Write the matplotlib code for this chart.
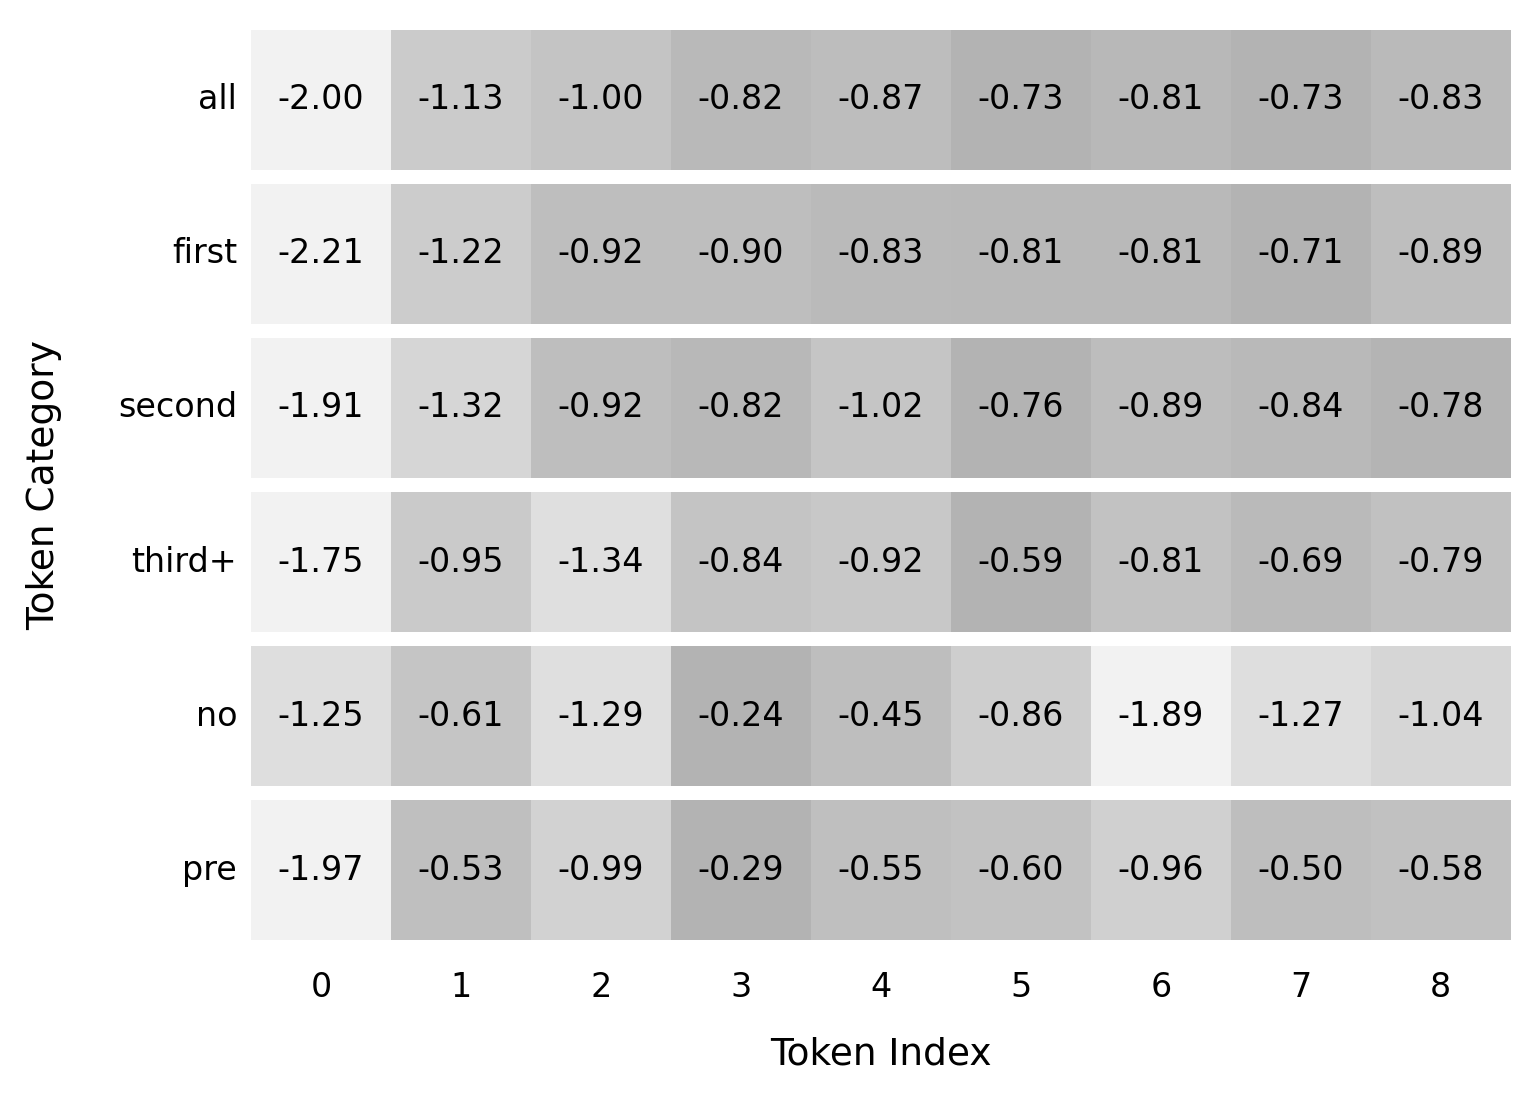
import numpy as np
import matplotlib.pyplot as plt
from matplotlib.patches import Rectangle

categories = ["all", "first", "second", "third+", "no", "pre"]
token_index = ["0", "1", "2", "3", "4", "5", "6", "7", "8"]

row_all = [-2.00, -1.13, -1.00, -0.82, -0.87, -0.73, -0.81, -0.73, -0.83]
row_first = [-2.21, -1.22, -0.92, -0.90, -0.83, -0.81, -0.81, -0.71, -0.89]
row_second = [-1.91, -1.32, -0.92, -0.82, -1.02, -0.76, -0.89, -0.84, -0.78]
row_third = [-1.75, -0.95, -1.34, -0.84, -0.92, -0.59, -0.81, -0.69, -0.79]
row_no = [-1.25, -0.61, -1.29, -0.24, -0.45, -0.86, -1.89, -1.27, -1.04]
row_pre = [-1.97, -0.53, -0.99, -0.29, -0.55, -0.60, -0.96, -0.50, -0.58]

rows = [row_all, row_first, row_second, row_third, row_no, row_pre]

cmap = plt.get_cmap("Greys")
pitch = 1.1  # row height 1 plus a white gap

fig = plt.figure(figsize=(7.7, 5.53), dpi=200)
ax = fig.add_axes([0.163, 0.150, 0.818, 0.823])

for i, vals in enumerate(rows):
    vals = np.array(vals)
    # each row gets its own colour scale
    frac = (vals - vals.min()) / (vals.max() - vals.min())
    y0 = i * pitch
    for j, v in enumerate(vals):
        ax.add_patch(Rectangle((j - 0.5, y0), 1, 1, facecolor=cmap(0.11 + 0.30 * frac[j]),
                               edgecolor="none"))
        ax.text(j, y0 + 0.5, f"{v:.2f}", ha="center", va="center", fontsize=12, color="black")

ax.set_xlim(-0.5, len(token_index) - 0.5)
ax.set_ylim((len(rows) - 1) * pitch + 1, 0)
ax.set_xticks(range(len(token_index)))
ax.set_xticklabels(token_index)
ax.set_yticks([i * pitch + 0.5 for i in range(len(rows))])
ax.set_yticklabels(categories, va="center")
ax.tick_params(length=0, labelsize=12)
ax.tick_params(axis="x", pad=11)
ax.tick_params(axis="y", pad=5)
for s in ax.spines.values():
    s.set_visible(False)

ax.set_xlabel("Token Index", fontsize=13.5, labelpad=12)
ax.set_ylabel("Token Category", fontsize=13.5, labelpad=20)

fig.savefig("out.png", dpi=200)
